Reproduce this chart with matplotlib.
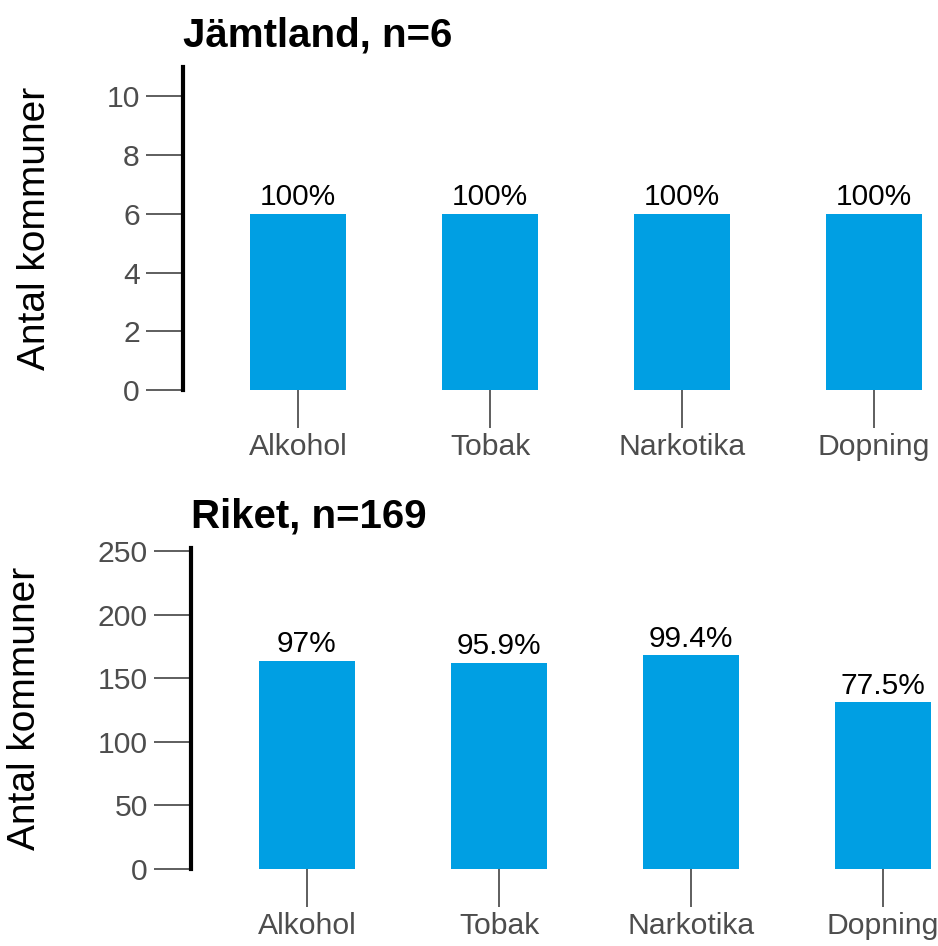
import matplotlib
matplotlib.use("Agg")
import matplotlib.pyplot as plt

plt.rcParams['font.family'] = ['Liberation Sans', 'DejaVu Sans']

kategorier = ["Alkohol", "Tobak", "Narkotika", "Dopning"]

# Jämtland
jamt_titel = "Jämtland, n=6"
jamt_antal = [6, 6, 6, 6]
jamt_pct = [100, 100, 100, 100]
jamt_yticks = [0, 2, 4, 6, 8, 10]

# Riket
riket_titel = "Riket, n=169"
riket_antal = [164, 162, 168, 131]
riket_pct = [97, 95.9, 99.4, 77.5]
riket_yticks = [0, 50, 100, 150, 200, 250]

bla = "#009FE3"
gra = "#4D4D4D"

W, H = 938, 946
fig = plt.figure(figsize=(W / 100, H / 100), dpi=100)


def panel(rect, titel, antal, pct, yticks, ytop, xlim, ylabel_x):
    ax = fig.add_axes(rect)
    x = range(len(kategorier))
    ax.bar(x, antal, width=0.5, color=bla)
    for xi, a, p in zip(x, antal, pct):
        ax.text(xi, a + ytop * 0.008, f"{p:g}%", ha="center", va="bottom",
                fontsize=21.5, color="black")
    ax.set_xlim(*xlim)
    ax.set_ylim(0, ytop)
    ax.set_xticks(list(x))
    ax.set_xticklabels(kategorier)
    ax.set_yticks(yticks)
    for s in ["top", "right", "bottom"]:
        ax.spines[s].set_visible(False)
    ax.spines["left"].set_linewidth(3)
    ax.spines["left"].set_color("black")
    ax.tick_params(axis="both", length=27, width=1.1, color="#333333",
                   labelsize=21.7, labelcolor=gra, pad=4)
    ax.set_title(titel, loc="left", fontsize=29, fontweight="bold", pad=15)
    fig.text(ylabel_x, rect[1] + rect[3] / 2, "Antal kommuner", rotation=90,
             ha="center", va="center", fontsize=28, color="black")
    return ax


panel([183 / W, 1 - 390 / H, (W - 183) / W, (390 - 67) / H],
      jamt_titel, jamt_antal, jamt_pct, jamt_yticks, 11,
      (-0.6, 3.333), 35 / W)

panel([191 / W, 1 - 869 / H, (W - 191) / W, (869 - 548) / H],
      riket_titel, riket_antal, riket_pct, riket_yticks, 252.5,
      (-0.604, 3.286), 25 / W)

fig.savefig("out.png", dpi=100)
